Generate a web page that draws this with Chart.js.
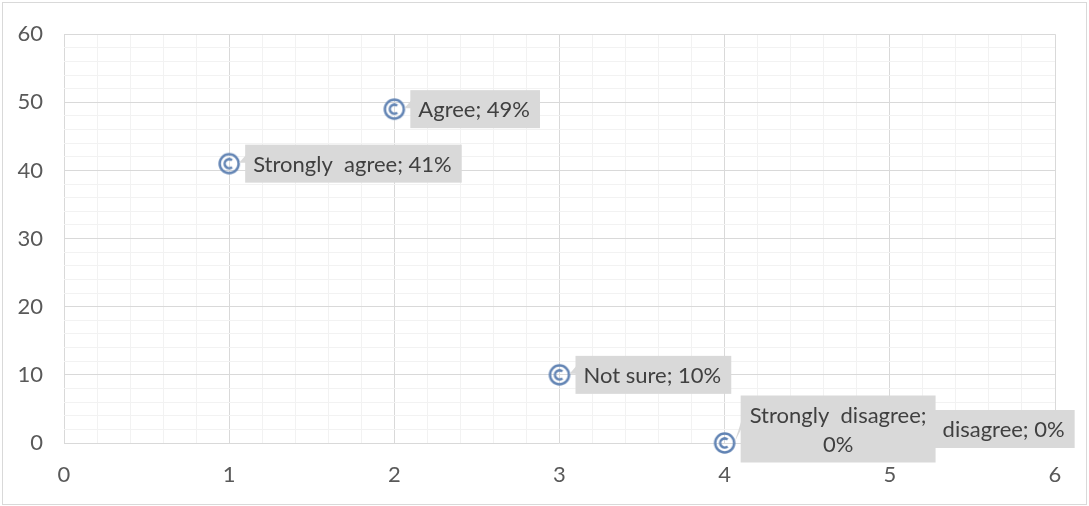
<!DOCTYPE html>
<html>
<head>
<meta charset="utf-8">
<script src="https://cdn.jsdelivr.net/npm/chart.js@4.4.1/dist/chart.umd.min.js"></script>
<style>
  html, body { margin: 0; padding: 0; background: #fff; }
  #wrap { width: 1089px; height: 506px; position: relative; }
</style>
</head>
<body>
<div id="wrap"><canvas id="chart"></canvas></div>
<script>
// Dados
const xValues = [1, 2, 3, 4, 5];
const yValues = [41, 49, 10, 0, 0];
const categories = ['Strongly  agree', 'Agree', 'Not sure', 'Strongly  disagree', 'disagree'];
const percentLabels = ['41%', '49%', '10%', '0%', '0%'];
const xRange = [0, 6];
const yRange = [0, 60];

const FONT_FAMILY = 'Lato, "Noto Sans", sans-serif';
const FONT_SIZE = 22;
const markerColor = '#6284b4';
const labelFill = '#d9d9d9';
const labelText = '#404040';
const tickColor = '#595959';
const majorGrid = '#d9d9d9';
const minorGrid = '#f2f2f2';

// Marcador circular com um "C" dentro, como no original
function makeMarker() {
    const c = document.createElement('canvas');
    c.width = 26; c.height = 26;
    const g = c.getContext('2d');
    g.strokeStyle = markerColor;
    g.lineWidth = 2.5;
    g.beginPath();
    g.arc(13, 13, 9.5, 0, Math.PI * 2);
    g.stroke();
    g.beginPath();
    g.arc(13, 13, 4.5, 0.28 * Math.PI, 1.72 * Math.PI);
    g.stroke();
    return c;
}

function isMultiple(v, step) {
    return Math.abs(v / step - Math.round(v / step)) < 1e-6;
}

// Quebra o texto do rótulo quando passa da largura máxima
function wrapText(ctx, text, maxWidth) {
    if (ctx.measureText(text).width <= maxWidth) return [text];
    const words = text.split(' ');
    const lines = [];
    let line = '';
    words.forEach(w => {
        const test = line === '' ? w : line + ' ' + w;
        if (ctx.measureText(test).width > maxWidth && line.trim() !== '') {
            lines.push(line);
            line = w;
        } else {
            line = test;
        }
    });
    if (line !== '') lines.push(line);
    return lines;
}

const frame = {
    id: 'frame',
    beforeDraw(chart) {
        const { ctx, width, height } = chart;
        ctx.save();
        ctx.fillStyle = '#ffffff';
        ctx.fillRect(0, 0, width, height);
        ctx.strokeStyle = '#d9d9d9';
        ctx.lineWidth = 1;
        ctx.strokeRect(2.5, 2.5, width - 5, height - 4);
        ctx.restore();
    }
};

// Rótulos em caixas cinzas com ponteiro, à direita de cada ponto
const callouts = {
    id: 'callouts',
    afterDatasetsDraw(chart) {
        const { ctx, chartArea } = chart;
        const meta = chart.getDatasetMeta(0);
        const padL = 8, padR = 10, padV = 4.5, lineH = 29, gap = 16, maxTextW = 205;
        ctx.save();
        ctx.font = `${FONT_SIZE}px ${FONT_FAMILY}`;
        const boxes = [];
        meta.data.forEach((pt, i) => {
            const text = categories[i] + '; ' + percentLabels[i];
            const lines = wrapText(ctx, text, maxTextW);
            const textW = Math.max(...lines.map(l => ctx.measureText(l).width));
            const w = textW + padL + padR;
            const h = lines.length * lineH + padV * 2;
            const cy = Math.min(pt.y, chartArea.bottom - 14);
            let x = pt.x + gap;
            const top = cy - h / 2;
            boxes.forEach(b => {
                const vOverlap = top < b.y + b.h && top + h > b.y;
                if (vOverlap && x < b.x + b.w && x + w > b.x) x = b.x + b.w - 1;
            });
            boxes.push({ x, y: top, w, h, lines, px: pt.x, py: pt.y, cy });
        });
        boxes.forEach(b => {
            ctx.fillStyle = labelFill;
            ctx.fillRect(b.x, b.y, b.w, b.h);
            // ponteiro
            if (b.x - b.px < 30) {
                ctx.beginPath();
                ctx.moveTo(b.x + 1, b.cy - 9);
                ctx.lineTo(b.x + 1, b.cy - 1);
                ctx.lineTo(b.px + 10, b.py - 1);
                ctx.closePath();
                ctx.fill();
            }
            ctx.fillStyle = labelText;
            ctx.textBaseline = 'middle';
            const multi = b.lines.length > 1;
            ctx.textAlign = multi ? 'center' : 'left';
            b.lines.forEach((l, k) => {
                const ty = b.y + padV + lineH * k + lineH / 2 + 1;
                const tx = multi ? b.x + b.w / 2 : b.x + padL;
                ctx.fillText(l, tx, ty);
            });
        });
        ctx.restore();
    }
};

const points = xValues.map((x, i) => ({ x, y: yValues[i] }));

new Chart(document.getElementById('chart'), {
    type: 'scatter',
    data: {
        datasets: [{
            data: points,
            pointStyle: makeMarker(),
            pointRadius: 11,
            pointHoverRadius: 11,
            clip: false
        }]
    },
    options: {
        responsive: true,
        maintainAspectRatio: false,
        animation: false,
        layout: { padding: { top: 31, right: 34, left: 0, bottom: 0 } },
        plugins: {
            legend: { display: false },
            tooltip: { enabled: false }
        },
        scales: {
            x: {
                type: 'linear',
                min: xRange[0],
                max: xRange[1],
                border: { display: false },
                grid: {
                    drawTicks: false,
                    lineWidth: 1,
                    color: c => isMultiple(c.tick.value, 1) ? majorGrid : minorGrid
                },
                ticks: {
                    stepSize: 0.2,
                    autoSkip: false,
                    maxRotation: 0,
                    padding: 19,
                    color: tickColor,
                    font: { family: FONT_FAMILY, size: FONT_SIZE },
                    callback: v => isMultiple(v, 1) ? String(Math.round(v)) : ''
                },
                afterFit: s => { s.height = 63; }
            },
            y: {
                type: 'linear',
                min: yRange[0],
                max: yRange[1],
                border: { display: false },
                grid: {
                    drawTicks: false,
                    lineWidth: 1,
                    color: c => isMultiple(c.tick.value, 10) ? majorGrid : minorGrid
                },
                ticks: {
                    stepSize: 2,
                    autoSkip: false,
                    padding: 21,
                    color: tickColor,
                    font: { family: FONT_FAMILY, size: FONT_SIZE },
                    callback: v => isMultiple(v, 10) ? String(Math.round(v)) : ''
                },
                afterFit: s => { s.width = 64; }
            }
        }
    },
    plugins: [frame, callouts]
});
</script>
</body>
</html>
